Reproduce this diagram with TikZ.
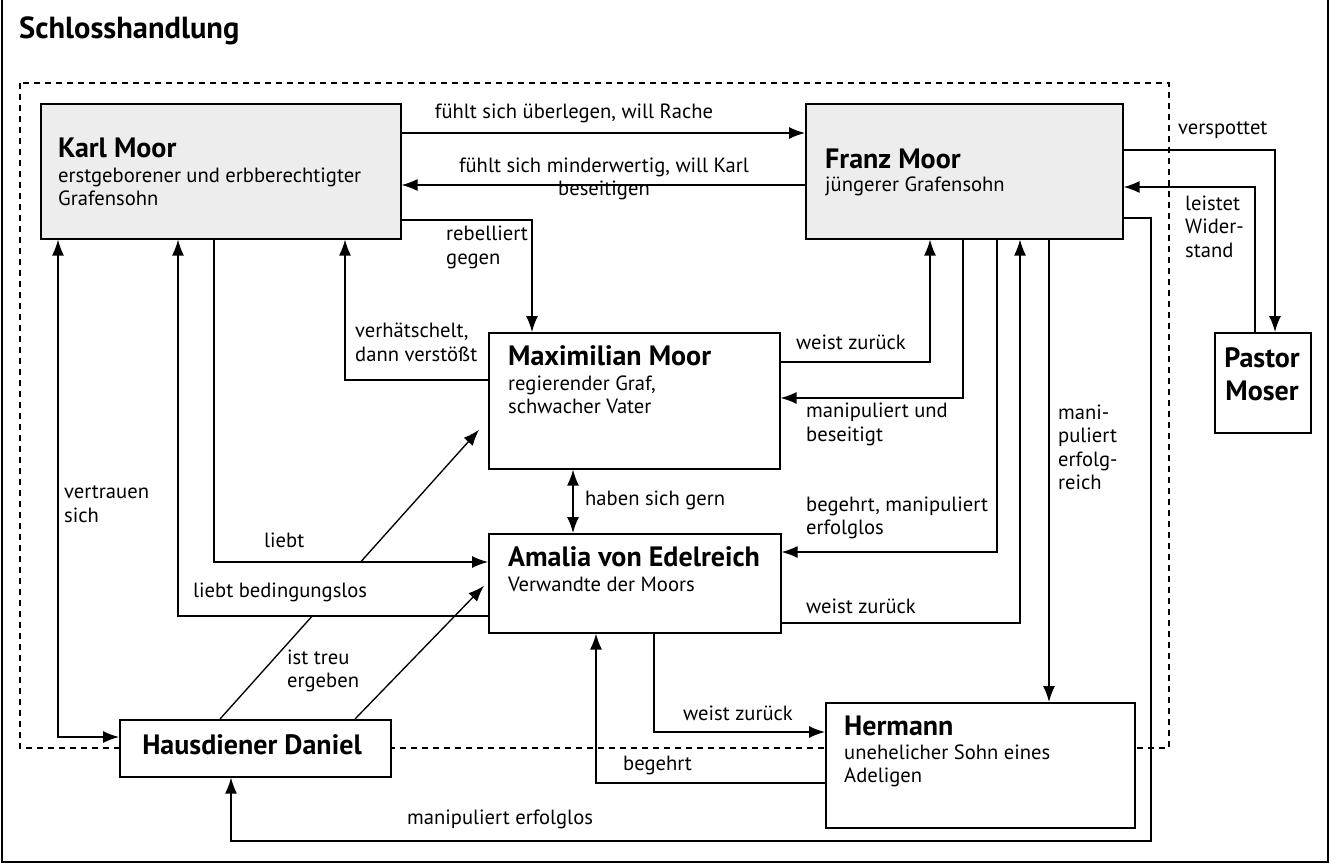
\documentclass[tikz,border=0pt]{standalone}
\usepackage{fontspec}
\setmainfont{PT Sans}
\usetikzlibrary{arrows.meta,calc}
\begin{document}
\begin{tikzpicture}[x=1pt,y=-1pt,
  box/.style={draw, line width=1.6pt, fill=white, inner sep=0pt, anchor=north west},
  grbox/.style={box, fill=gray!14},
  con/.style={line width=1.35pt},
  arr/.style={con, -{Latex[length=16pt,width=12pt]}},
  darr/.style={con, {Latex[length=16pt,width=12pt]}-{Latex[length=16pt,width=12pt]}},
  lbl/.style={font=\fontsize{20.6}{23.5}\selectfont, inner sep=0pt, anchor=west, align=left},
  ttl/.style={font=\fontsize{28}{33}\selectfont\bfseries, inner sep=0pt, anchor=west}]
\useasboundingbox (0,0) rectangle (1330,867);
% outer frame
\draw[line width=1.5pt] (2,0) -- (2,862) -- (1328,862) -- (1328,0);
\node[ttl, font=\fontsize{30.5}{34}\selectfont\bfseries, anchor=base west] (title) at (19,39) {Schlosshandlung};
% dashed region
\draw[line width=1.2pt, dash pattern=on 6pt off 5pt] (20,83) rectangle (1169,748);
% boxes
\node[grbox, minimum width=360pt, minimum height=135pt] (karl) at (40,103) {};
\node[grbox, minimum width=317pt, minimum height=135pt] (franz) at (805,103) {};
\node[box, minimum width=291pt, minimum height=136pt] (max) at (488,332) {};
\node[box, minimum width=292pt, minimum height=99pt] (amalia) at (488,533) {};
\node[box, minimum width=96pt, minimum height=100pt] (pastor) at (1214,332) {};
\node[box, minimum width=271pt, minimum height=57pt] (daniel) at (119,719) {};
\node[box, minimum width=309pt, minimum height=125pt] (hermann) at (825,702) {};
% box texts
\node[ttl] (karlT) at (58,148) {Karl Moor};
\node[lbl] (karlS) at (58,187) {erstgeborener und erbberechtigter\\Grafensohn};
\node[ttl] (franzT) at (825,159) {Franz Moor};
\node[lbl] (franzS) at (825,186) {jüngerer Grafensohn};
\node[ttl] (maxT) at (508,356) {Maximilian Moor};
\node[lbl] (maxS) at (508,395) {regierender Graf,\\schwacher Vater};
\node[ttl] (amaliaT) at (508,557) {Amalia von Edelreich};
\node[lbl] (amaliaS) at (508,584) {Verwandte der Moors};
\node[ttl, anchor=center, align=center] (pastorT) at (1262,374.5) {Pastor\\Moser};
\node[ttl, anchor=center] (danielT) at (252,745) {Hausdiener Daniel};
\node[ttl] (hermannT) at (844,726) {Hermann};
\node[lbl] (hermannS) at (844,766) {unehelicher Sohn eines\\Adeligen};
% connectors
\draw[arr] (karl.east|-0,133) -- (franz.west|-0,133);
\node[lbl, anchor=center] (l1) at (574,113) {fühlt sich überlegen, will Rache};
\draw[arr] (franz.west|-0,185) -- (karl.east|-0,185);
\node[lbl, anchor=center, align=center] (l2) at (604,179) {fühlt sich minderwertig, will Karl\\beseitigen};
\draw[arr] (karl.east|-0,220) -| (max.north-|532,0);
\node[lbl] (l3) at (446,247.5) {rebelliert\\gegen};
\draw[arr] (max.west|-0,380) -| (karl.south-|345,0);
\node[lbl] (l4) at (355,342.5) {verhätschelt,\\dann verstößt};
\draw[arr] (karl.south-|214,0) |- (amalia.west|-0,562);
\node[lbl] (l5) at (264,540) {liebt};
\draw[arr] (amalia.west|-0,616) -| (karl.south-|178,0);
\node[lbl] (l6) at (193,592) {liebt bedingungslos};
\draw[darr] (karl.south-|58,0) |- (daniel.west|-0,737);
\node[lbl] (l7) at (64,504) {vertrauen\\sich};
\coordinate (dA) at (daniel.north-|220,0);
\coordinate (mIn) at ($(max.west)+(-9,29)$);
\draw[con] (dA) -- ($(dA)!0.355!(mIn)$);
\draw[arr] ($(dA)!0.541!(mIn)$) -- (mIn);
\draw[arr] (daniel.north-|355,0) -- ($(amalia.west)+(-4,2.5)$);
\node[lbl] (l8) at (287,671) {ist treu\\ergeben};
\draw[darr] (max.south-|573,0) -- (amalia.north-|573,0);
\node[lbl] (l10) at (585,500) {haben sich gern};
\draw[arr] (max.east|-0,362) -| (franz.south-|930,0);
\node[lbl] (l11) at (796,342) {weist zurück};
\draw[arr] (franz.south-|963,0) |- (max.east|-0,398);
\node[lbl] (l12) at (806,424.5) {manipuliert und\\beseitigt};
\draw[arr] (franz.south-|997,0) |- (amalia.east|-0,552);
\node[lbl] (l13) at (806,518) {begehrt, manipuliert\\erfolglos};
\draw[arr] (amalia.east|-0,623) -| (franz.south-|1020,0);
\node[lbl] (l14) at (806,606) {weist zurück};
\draw[arr] (franz.south-|1049,0) -- (hermann.north-|1049,0);
\node[lbl] (l15) at (1058,447.5) {mani-\\puliert\\erfolg-\\reich};
\draw[arr] (franz.east|-0,150) -| (pastor.north-|1275,0);
\node[lbl] (l16) at (1178,130) {verspottet};
\draw[arr] (pastor.north-|1255,0) |- (franz.east|-0,187);
\node[lbl] (l17) at (1185,226.5) {leistet\\Wider-\\stand};
\draw[arr] (franz.east|-0,218) -| (1151,841) -| (daniel.south-|231,0);
\node[lbl] (l18) at (407,819) {manipuliert erfolglos};
\draw[arr] (amalia.south-|654,0) |- (hermann.west|-0,732);
\node[lbl] (l19) at (683,713) {weist zurück};
\draw[arr] (hermann.west|-0,783) -| (amalia.south-|596,0);
\node[lbl] (l20) at (623,765) {begehrt};
\end{tikzpicture}
\end{document}
